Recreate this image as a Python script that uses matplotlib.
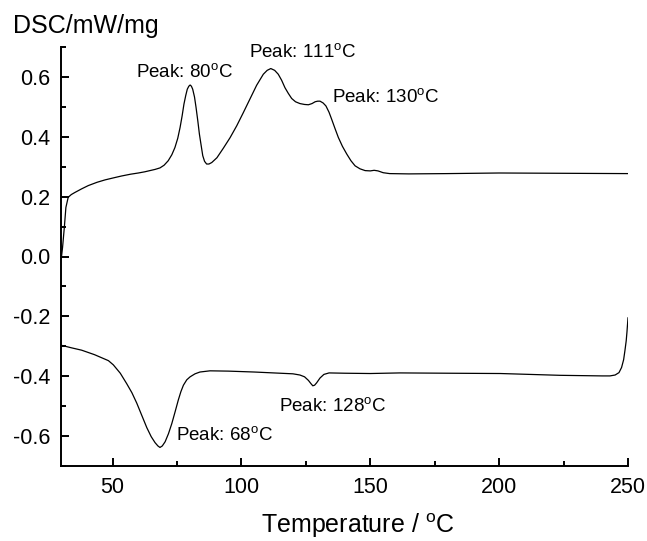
import numpy as np
import matplotlib
matplotlib.use('Agg')
import matplotlib.pyplot as plt
from matplotlib.ticker import MultipleLocator

plt.rcParams['font.family'] = ['Liberation Sans', 'DejaVu Sans']
plt.rcParams['mathtext.fontset'] = 'custom'
plt.rcParams['mathtext.rm'] = 'Liberation Sans'

# heating curve (upper)
heat_t = [30.2, 30.6, 31.3, 31.9, 32.8, 34.0, 35.4, 38.0, 40.6, 44.0, 47.1, 50.5, 53.5,
          57.0, 60.0, 62.5, 64.5, 66.5, 68.4, 70.0, 71.6, 73.0, 74.2, 75.3, 76.2,
          77.0, 77.7, 78.4, 79.0, 79.6, 80.1, 80.6, 81.1, 81.8, 82.4, 83.1, 83.7,
          84.4, 85.0, 85.7, 86.5, 87.4, 88.5, 90.5, 93.0, 95.6, 98.2, 100.7, 103.3,
          105.9, 108.5, 110.0, 111.4, 112.9, 114.3, 115.6, 116.9, 118.2, 119.5,
          121.0, 122.7, 124.5, 126.0, 127.4, 128.6, 129.6, 130.5, 131.7, 132.8,
          134.0, 135.0, 136.3, 137.6, 139.2, 140.9, 142.5, 144.1, 146.0, 148.0,
          150.0, 151.5, 153.0, 155.0, 157.5, 165.0, 180.0, 200.0, 225.0, 250.0]
heat_dsc = [0.000, 0.030, 0.098, 0.164, 0.198, 0.207, 0.214, 0.226, 0.237, 0.248, 0.256, 0.263, 0.269,
            0.275, 0.279, 0.283, 0.287, 0.291, 0.296, 0.305, 0.320, 0.340, 0.364, 0.395, 0.431,
            0.470, 0.509, 0.538, 0.559, 0.569, 0.573, 0.569, 0.559, 0.533, 0.498, 0.452, 0.409,
            0.370, 0.337, 0.318, 0.309, 0.309, 0.314, 0.330, 0.362, 0.397, 0.437, 0.480, 0.526,
            0.572, 0.609, 0.622, 0.628, 0.622, 0.609, 0.589, 0.564, 0.545, 0.528,
            0.517, 0.511, 0.508, 0.507, 0.511, 0.517, 0.519, 0.519, 0.513, 0.503,
            0.482, 0.459, 0.428, 0.398, 0.368, 0.342, 0.320, 0.303, 0.293, 0.287,
            0.286, 0.288, 0.286, 0.280, 0.277, 0.276, 0.277, 0.279, 0.278, 0.277]

# cooling curve (lower)
cool_t = [30.3, 34.0, 38.0, 43.0, 48.4, 50.3, 53.0, 55.5, 57.5, 59.4, 61.3, 63.3, 65.0,
          66.5, 67.6, 68.4, 69.3, 70.4, 71.7, 73.0, 74.3, 75.5, 76.5, 77.5, 78.8,
          80.1, 82.0, 83.9, 87.8, 95.0, 105.0, 115.0, 120.0, 122.7, 124.5, 126.0,
          127.0, 127.7, 128.4, 129.2, 130.5, 132.0, 134.0, 140.0, 150.0, 161.5,
          180.0, 200.5, 223.6, 240.0, 243.0, 245.0, 246.5, 247.5, 248.3, 248.8,
          249.3, 249.6, 250.0]
cool_dsc = [-0.297, -0.305, -0.313, -0.328, -0.348, -0.362, -0.390, -0.425, -0.455, -0.490, -0.530, -0.572, -0.602,
            -0.622, -0.633, -0.638, -0.633, -0.619, -0.592, -0.558, -0.518, -0.480, -0.452, -0.430, -0.412,
            -0.402, -0.392, -0.386, -0.382, -0.383, -0.386, -0.390, -0.392, -0.396, -0.402, -0.414,
            -0.425, -0.432, -0.430, -0.422, -0.406, -0.394, -0.389, -0.390, -0.391, -0.389,
            -0.390, -0.391, -0.397, -0.399, -0.399, -0.396, -0.388, -0.371, -0.345, -0.315,
            -0.282, -0.252, -0.205]

peak_labels = ['80', '111', '130', '68', '128']
peak_pos = [(59.1, 0.613), (102.9, 0.680), (135.1, 0.530), (74.6, -0.597), (114.6, -0.503)]

fig = plt.figure(figsize=(6.47, 5.41), dpi=100)
ax = fig.add_axes([61/647, 1 - 466/541, 567/647, 419/541])

ax.plot(heat_t, heat_dsc, color='black', lw=0.9)
ax.plot(cool_t, cool_dsc, color='black', lw=0.9)

for lab, (x, y) in zip(peak_labels, peak_pos):
    ax.text(x, y, 'Peak: ' + lab + r'$^{\mathregular{o}}$C', fontsize=13.5,
            ha='left', va='center')

ax.set_xlim(30, 250)
ax.set_ylim(-0.7, 0.7)
ax.xaxis.set_major_locator(MultipleLocator(50))
ax.xaxis.set_minor_locator(MultipleLocator(25))
ax.yaxis.set_minor_locator(MultipleLocator(0.1))
ax.set_yticks([-0.6, -0.4, -0.2, 0.0, 0.2, 0.4, 0.6])
ax.set_yticklabels(['-0.6', '-0.4', '-0.2', '0.0', '0.2', '0.4', '0.6'])

for s in ['top', 'right']:
    ax.spines[s].set_visible(False)
for s in ['left', 'bottom']:
    ax.spines[s].set_linewidth(1.4)
ax.tick_params(which='major', direction='in', length=6, width=1.4, labelsize=15.5, pad=8)
ax.tick_params(which='minor', direction='in', length=3.5, width=1.4)

fig.text(13/647, 1 - 33.5/541, 'DSC/mW/mg', fontsize=18, ha='left', va='baseline')
fig.text(358/647, 1 - 533/541, r'Temperature / $^{\mathregular{o}}$C', fontsize=18,
         ha='center', va='baseline')

fig.savefig('out.png', dpi=100)
